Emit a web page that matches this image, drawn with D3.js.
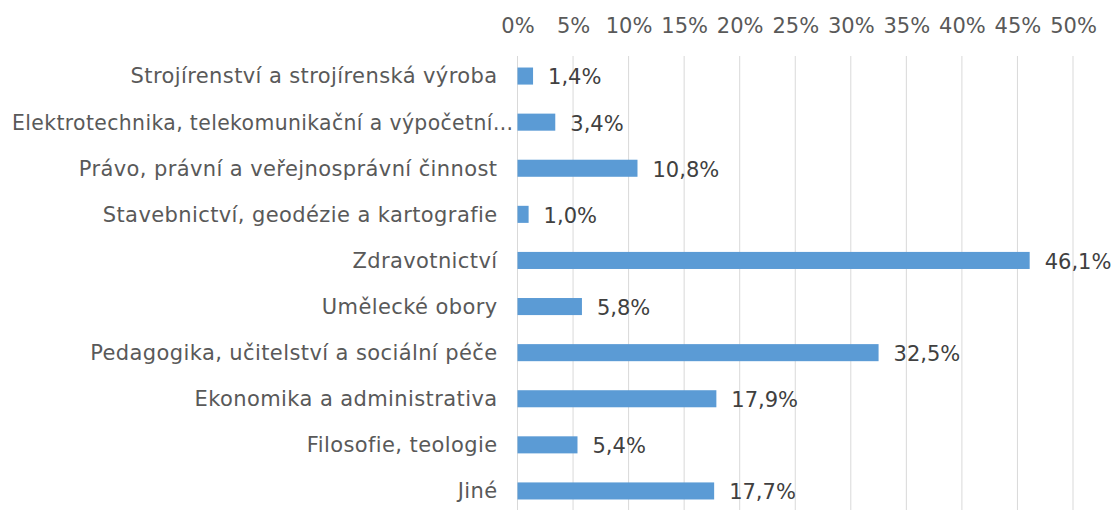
<!DOCTYPE html>
<html>
<head>
<meta charset="utf-8">
<script src="https://cdn.jsdelivr.net/npm/d3@7"></script>
<style>
  body { margin: 0; background: #fff; }
  svg { display: block; font-family: "DejaVu Sans", Verdana, sans-serif; }
</style>
</head>
<body>
<svg id="chart"></svg>
<script>
// chart data
const categories = [
  "Strojírenství a strojírenská výroba",
  "Elektrotechnika, telekomunikační a výpočetní…",
  "Právo, právní a veřejnosprávní činnost",
  "Stavebnictví, geodézie a kartografie",
  "Zdravotnictví",
  "Umělecké obory",
  "Pedagogika, učitelství a sociální péče ",
  "Ekonomika a administrativa",
  "Filosofie, teologie",
  "Jiné"
]
const values = [1.4, 3.4, 10.8, 1.0, 46.1, 5.8, 32.5, 17.9, 5.4, 17.7]
const tickValues = [0, 5, 10, 15, 20, 25, 30, 35, 40, 45, 50]

const width = 1116
const height = 510
const margin = { top: 53, right: 43, bottom: -4, left: 517.5 }
const fontSize = "21px"

const svg = d3.select("#chart")
  .attr("width", width)
  .attr("height", height)

const boundedWidth = width - margin.left - margin.right
const boundedHeight = height - margin.top - margin.bottom

const group = svg.append("g")
  .attr("transform", `translate(${margin.left}, ${margin.top})`)

const xScale = d3.scaleLinear()
  .domain([0, 50])
  .range([0, boundedWidth])

const yScale = d3.scaleBand()
  .domain(categories)
  .range([0, boundedHeight])
  .paddingInner(0.63)
  .paddingOuter(0.315)

// gridlines
group.selectAll(".grid")
  .data(tickValues)
  .join("line")
    .attr("class", "grid")
    .attr("x1", d => xScale(d))
    .attr("x2", d => xScale(d))
    .attr("y1", 3)
    .attr("y2", boundedHeight)
    .attr("stroke", "#d9d9d9")
    .attr("stroke-width", 1)

// top axis labels
const xAxis = d3.axisTop(xScale)
  .tickValues(tickValues)
  .tickSize(0)
  .tickPadding(20)
  .tickFormat(d => d + "%")

group.append("g")
  .call(xAxis)
  .call(g => g.select(".domain").remove())
  .call(g => g.selectAll("text")
    .attr("fill", "#595959")
    .style("font-size", fontSize)
    .style("font-family", "DejaVu Sans, Verdana, sans-serif"))

// category labels
const labelRight = -20
const labelLeftLimit = 12 - margin.left
group.selectAll(".cat")
  .data(categories)
  .join("text")
    .attr("class", "cat")
    .attr("x", labelRight)
    .attr("y", d => yScale(d) + yScale.bandwidth() / 2)
    .attr("dy", "0.35em")
    .attr("text-anchor", "end")
    .attr("fill", "#595959")
    .style("font-size", fontSize)
    .style("letter-spacing", "0.4px")
    .text(d => d)
    .each(function() {
      // long labels spill toward the axis like in the original, fitted to the left edge
      const w = this.getComputedTextLength()
      if (labelRight - w < labelLeftLimit) {
        d3.select(this)
          .attr("text-anchor", "start")
          .attr("x", labelLeftLimit)
          .attr("textLength", -4 - labelLeftLimit)
          .attr("lengthAdjust", "spacingAndGlyphs")
      }
    })

// bars
group.selectAll(".bar")
  .data(values)
  .join("rect")
    .attr("class", "bar")
    .attr("x", 0)
    .attr("y", (d, i) => yScale(categories[i]))
    .attr("width", d => xScale(d))
    .attr("height", yScale.bandwidth())
    .attr("fill", "#5b9bd5")

// value labels
group.selectAll(".val")
  .data(values)
  .join("text")
    .attr("class", "val")
    .attr("x", d => xScale(d) + 15)
    .attr("y", (d, i) => yScale(categories[i]) + yScale.bandwidth() / 2)
    .attr("dy", "0.4em")
    .attr("fill", "#404040")
    .style("font-size", fontSize)
    .text(d => d.toFixed(1).replace(".", ",") + "%")
</script>
</body>
</html>
